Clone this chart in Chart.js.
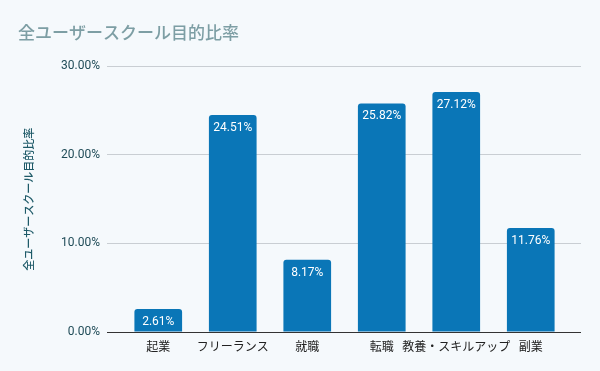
<!DOCTYPE html>
<html>
<head>
<meta charset="utf-8">
<script src="https://cdn.jsdelivr.net/npm/chart.js@4"></script>
<style>
  html, body { margin: 0; padding: 0; background: #f5f9fc; }
  #wrap { width: 600px; height: 371px; }
</style>
</head>
<body>
<div id="wrap"><canvas id="diagram" width="600" height="371"></canvas></div>
<script>
// chart data
var categories = ['起業', 'フリーランス', '就職', '転職', '教養・スキルアップ', '副業'];
var values = [2.61, 24.51, 8.17, 25.82, 27.12, 11.76];
var yTicks = [0, 10, 20, 30];

var FONT = "Roboto, 'Noto Sans CJK JP', sans-serif";

// value labels inside the top of each bar
var barLabels = {
  id: 'barLabels',
  afterDatasetsDraw: function(chart) {
    var ctx = chart.ctx;
    var meta = chart.getDatasetMeta(0);
    ctx.save();
    ctx.fillStyle = '#ffffff';
    ctx.font = '12px ' + FONT;
    ctx.textAlign = 'center';
    ctx.textBaseline = 'top';
    meta.data.forEach(function(bar, i) {
      ctx.fillText(values[i].toFixed(2) + '%', bar.x, bar.y + 7);
    });
    ctx.restore();
  }
};

function gridColor(c) {
  return c.tick && c.tick.value === 0 ? '#333333' : '#c9ced3';
}

var ctx = document.getElementById('diagram').getContext('2d');
new Chart(ctx, {
  type: 'bar',
  data: {
    labels: categories,
    datasets: [{
      label: '全ユーザースクール目的比率',
      data: values,
      backgroundColor: '#0a76b7',
      borderRadius: { topLeft: 3, topRight: 3 },
      borderSkipped: 'bottom',
      barPercentage: 0.8,
      categoryPercentage: 0.8
    }]
  },
  options: {
    responsive: false,
    animation: false,
    layout: { padding: { left: 18, right: 0, top: 0, bottom: 0 } },
    plugins: {
      legend: { display: false },
      tooltip: { enabled: false },
      title: {
        display: true,
        text: '全ユーザースクール目的比率',
        align: 'start',
        color: '#7d9ea4',
        font: { family: FONT, size: 17, weight: '500' },
        padding: { top: 25, bottom: 21 }
      }
    },
    scales: {
      x: {
        grid: { display: false, drawTicks: false },
        border: { display: false },
        ticks: { color: '#222222', font: { family: FONT, size: 12 }, padding: 9, maxRotation: 0, autoSkip: false },
        afterFit: function(s) { s.height = 39; }
      },
      y: {
        min: 0,
        max: 30,
        afterBuildTicks: function(s) { s.ticks = yTicks.map(function(v) { return { value: v }; }); },
        ticks: {
          color: '#1f4b57',
          font: { family: FONT, size: 12 },
          padding: 7,
          callback: function(v) { return v.toFixed(2) + '%'; }
        },
        grid: {
          color: gridColor,
          lineWidth: 1,
          tickLength: 14
        },
        border: { display: false },
        title: {
          display: true,
          text: '全ユーザースクール目的比率',
          color: '#1e5a68',
          font: { family: FONT, size: 11, weight: '500' },
          padding: { top: 6, bottom: 4 }
        },
        afterFit: function(s) { s.width = 103; }
      },
      yRight: {
        position: 'right',
        min: 0,
        max: 30,
        afterBuildTicks: function(s) { s.ticks = yTicks.map(function(v) { return { value: v }; }); },
        ticks: { display: false },
        grid: {
          drawOnChartArea: false,
          color: gridColor,
          tickLength: 13
        },
        border: { display: false },
        afterFit: function(s) { s.width = 32; }
      }
    }
  },
  plugins: [barLabels]
});
</script>
</body>
</html>
